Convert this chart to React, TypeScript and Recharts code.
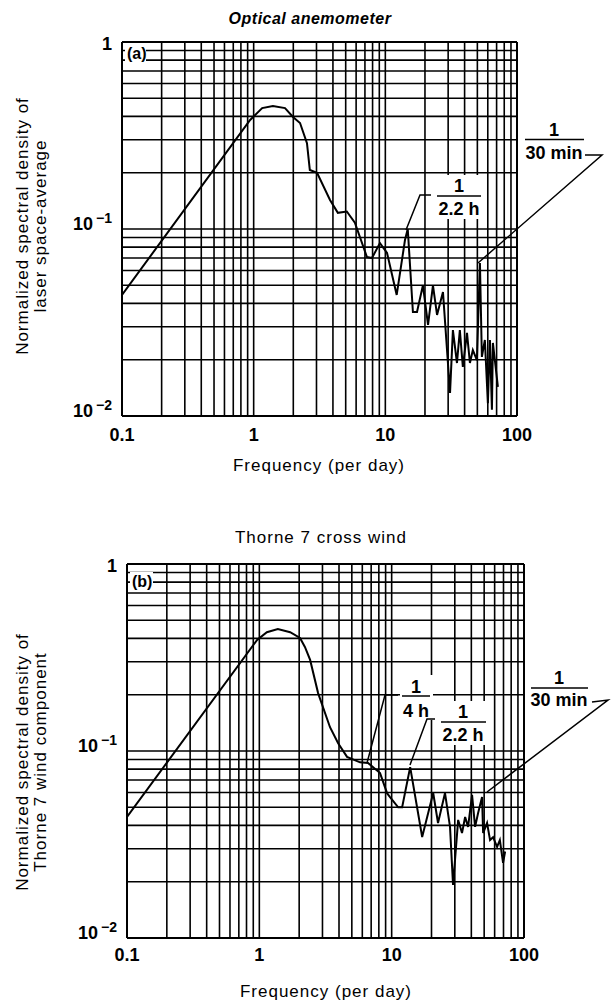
import React from 'react';
import { LineChart, Line, XAxis, YAxis, ReferenceLine } from 'recharts';

const FONT = '"Liberation Sans", Arial, Helvetica, sans-serif';

// axis ticks and log grid
const xTicks = [0.1, 1, 10, 100];
const yTicks = [0.01, 0.1, 1];
const xGrid = [0.2, 0.3, 0.4, 0.5, 0.6, 0.7, 0.8, 0.9, 1, 2, 3, 4, 5, 6, 7, 8, 9, 10, 20, 30, 40, 50, 60, 70, 80, 90];
const yGrid = [0.02, 0.03, 0.04, 0.05, 0.06, 0.07, 0.08, 0.09, 0.1, 0.2, 0.3, 0.4, 0.5, 0.6, 0.7, 0.8, 0.9];

// (a) optical anemometer, frequency per day vs normalized spectral density
const freqA = [0.1, 0.94, 1.16, 1.4, 1.73, 1.99, 2.25, 2.54, 2.67, 3.03, 3.8, 4.36, 5.1, 5.87, 7.25, 7.91, 9.1, 10.3, 12.2, 14.1, 14.8, 16.2, 17.4, 19.3, 21.1, 23.0, 24.7, 27.4, 31.0, 32.6, 35.0, 36.8, 38.8, 41.7, 43.9, 46.2, 49.6, 52.3, 54.1, 57.0, 60.1, 62.3, 64.5, 65.6, 71.6];
const densA = [0.0444, 0.383, 0.443, 0.455, 0.443, 0.397, 0.369, 0.288, 0.207, 0.2, 0.143, 0.122, 0.124, 0.108, 0.0708, 0.0699, 0.0841, 0.0745, 0.0444, 0.0873, 0.1, 0.036, 0.036, 0.05, 0.0307, 0.05, 0.0347, 0.046, 0.0133, 0.0288, 0.0192, 0.0288, 0.0183, 0.0278, 0.0192, 0.0225, 0.0199, 0.0658, 0.0207, 0.0255, 0.0117, 0.0255, 0.0108, 0.0246, 0.0143];

// (b) Thorne 7 cross wind
const freqB = [0.1, 0.962, 1.14, 1.38, 1.71, 2.03, 2.21, 2.42, 2.78, 3.42, 3.94, 4.6, 5.77, 6.63, 8.17, 9.23, 9.72, 11.2, 12.0, 13.8, 17.0, 20.6, 22.4, 25.3, 27.6, 29.1, 31.8, 34.0, 35.9, 37.8, 40.5, 42.7, 45.0, 48.2, 49.1, 52.6, 55.4, 58.4, 62.6, 65.7, 69.5, 72];
const densB = [0.0444, 0.393, 0.432, 0.449, 0.432, 0.402, 0.36, 0.307, 0.204, 0.134, 0.11, 0.093, 0.087, 0.0863, 0.0762, 0.0595, 0.0567, 0.05, 0.05, 0.082, 0.0347, 0.0596, 0.0412, 0.0596, 0.0393, 0.0192, 0.0428, 0.0364, 0.0444, 0.0393, 0.0582, 0.0393, 0.0466, 0.0567, 0.0364, 0.0412, 0.0334, 0.0346, 0.0307, 0.0334, 0.0252, 0.029];

const rowsA = freqA.map((f, i) => ({ f, v: densA[i] }));
const rowsB = freqB.map((f, i) => ({ f, v: densB[i] }));

const XTick = (p: any) => (
  <text x={p.x} y={p.y + 13} textAnchor="middle" fontSize={18} fontWeight="bold" fontFamily={FONT} fill="#000">
    {p.payload.value}
  </text>
);

const YTick = (p: any) => {
  const v = p.payload.value;
  const common = { x: p.x, textAnchor: 'end' as const, fontSize: 18, fontWeight: 'bold', fontFamily: FONT, fill: '#000' };
  if (v === 1) return <text {...common} y={p.y + 8}>1</text>;
  const exp = Math.round(Math.log10(v));
  return (
    <text {...common} y={p.y + 1}>
      10<tspan dx={3} dy={-7} fontSize={14}>{'\u2212' + Math.abs(exp)}</tspan>
    </text>
  );
};

interface PanelProps {
  rows: { f: number; v: number }[];
  margin: { top: number; right: number; bottom: number; left: number };
  xGap: number;
}

function SpectrumPanel({ rows, margin, xGap }: PanelProps) {
  return (
    <LineChart width={614} height={480} data={rows} margin={margin}>
      {xGrid.map((v) => (
        <ReferenceLine key={'gx' + v} x={v} stroke="#000" strokeWidth={1.6} />
      ))}
      {yGrid.map((v) => (
        <ReferenceLine key={'gy' + v} y={v} stroke="#000" strokeWidth={1.6} />
      ))}
      <ReferenceLine x={0.1} stroke="#000" strokeWidth={2} />
      <ReferenceLine x={100} stroke="#000" strokeWidth={2} />
      <ReferenceLine y={0.01} stroke="#000" strokeWidth={2} />
      <ReferenceLine y={1} stroke="#000" strokeWidth={2} />
      <XAxis
        type="number"
        dataKey="f"
        scale="log"
        domain={[0.1, 100]}
        ticks={xTicks}
        interval={0}
        allowDataOverflow
        axisLine={false}
        tickLine={false}
        tickSize={0}
        tickMargin={xGap}
        height={30}
        tick={XTick}
      />
      <YAxis
        type="number"
        dataKey="v"
        scale="log"
        domain={[0.01, 1]}
        ticks={yTicks}
        interval={0}
        allowDataOverflow
        axisLine={false}
        tickLine={false}
        tickSize={0}
        tickMargin={10}
        width={60}
        tick={YTick}
      />
      <Line type="linear" dataKey="v" stroke="#000" strokeWidth={2} dot={false} isAnimationActive={false} />
    </LineChart>
  );
}

const txt = { fontFamily: FONT, fill: '#000' };
const ann = { ...txt, fontSize: 18, fontWeight: 'bold', textAnchor: 'middle' as const };
const lbl = { ...txt, fontSize: 17, letterSpacing: 1, textAnchor: 'middle' as const };
const lead = { fill: 'none', stroke: '#000', strokeWidth: 1.5 };

export default function App() {
  return (
    <div style={{ position: 'absolute', left: 0, top: 0, width: 614, height: 1000, background: '#fff' }}>
      <div style={{ position: 'absolute', left: 0, top: 0 }}>
        <SpectrumPanel rows={rowsA} margin={{ top: 42, right: 97, bottom: 34, left: 62 }} xGap={12} />
      </div>
      <div style={{ position: 'absolute', left: 0, top: 520 }}>
        <SpectrumPanel rows={rowsB} margin={{ top: 44, right: 90, bottom: 32, left: 67 }} xGap={10} />
      </div>
      <svg width={614} height={1000} style={{ position: 'absolute', left: 0, top: 0, pointerEvents: 'none' }}>
        {/* titles */}
        <text {...txt} x={310} y={24} fontSize={16} fontStyle="italic" fontWeight="bold" letterSpacing={0.5} textAnchor="middle">
          Optical anemometer
        </text>
        <text {...lbl} x={321} y={543}>Thorne 7 cross wind</text>

        {/* panel tags */}
        <rect x={125} y={45} width={21} height={17} fill="#fff" />
        <text {...txt} x={127} y={59} fontSize={16} fontWeight="bold">(a)</text>
        <rect x={130} y={572} width={23} height={18} fill="#fff" />
        <text {...txt} x={132} y={587} fontSize={16} fontWeight="bold">(b)</text>

        {/* axis titles */}
        <text {...lbl} x={319} y={471}>Frequency (per day)</text>
        <text {...lbl} x={326} y={997}>Frequency (per day)</text>
        <text {...lbl} transform="translate(28,226) rotate(-90)">Normalized spectral density of</text>
        <text {...lbl} transform="translate(46,226) rotate(-90)">laser space-average</text>
        <text {...lbl} transform="translate(28,762) rotate(-90)">Normalized spectral density of</text>
        <text {...lbl} transform="translate(46,762) rotate(-90)">Thorne 7 wind component</text>

        {/* (a) annotations */}
        <rect x={434} y={175} width={51} height={44} fill="#fff" />
        <polyline {...lead} points="406,230 420,195 431,195" />
        <line x1={437} y1={196} x2={481} y2={196} stroke="#000" strokeWidth={1.5} />
        <text {...ann} x={459} y={192}>1</text>
        <text {...ann} x={459} y={215}>2.2 h</text>

        <polyline {...lead} points="585,155 602,155 478,263" />
        <line x1={525} y1={139.5} x2={584} y2={139.5} stroke="#000" strokeWidth={1.5} />
        <text {...ann} x={554} y={136}>1</text>
        <text {...ann} x={554} y={159}>30 min</text>

        {/* (b) annotations */}
        <rect x={400} y={675} width={33} height={45} fill="#fff" />
        <polyline {...lead} points="367,763 385,695 398,695" />
        <line x1={402} y1={696} x2={430} y2={696} stroke="#000" strokeWidth={1.5} />
        <text {...ann} x={416} y={693}>1</text>
        <text {...ann} x={416} y={717}>4 h</text>

        <rect x={438} y={701} width={51} height={44} fill="#fff" />
        <polyline {...lead} points="410,765 427,719 435,719" />
        <line x1={441} y1={722} x2={486} y2={722} stroke="#000" strokeWidth={1.5} />
        <text {...ann} x={463} y={718}>1</text>
        <text {...ann} x={463} y={741}>2.2 h</text>

        <polyline {...lead} points="592,702 608,700 487,792" />
        <line x1={531} y1={688} x2={588} y2={688} stroke="#000" strokeWidth={1.5} />
        <text {...ann} x={559} y={684}>1</text>
        <text {...ann} x={559} y={706}>30 min</text>
      </svg>
    </div>
  );
}
